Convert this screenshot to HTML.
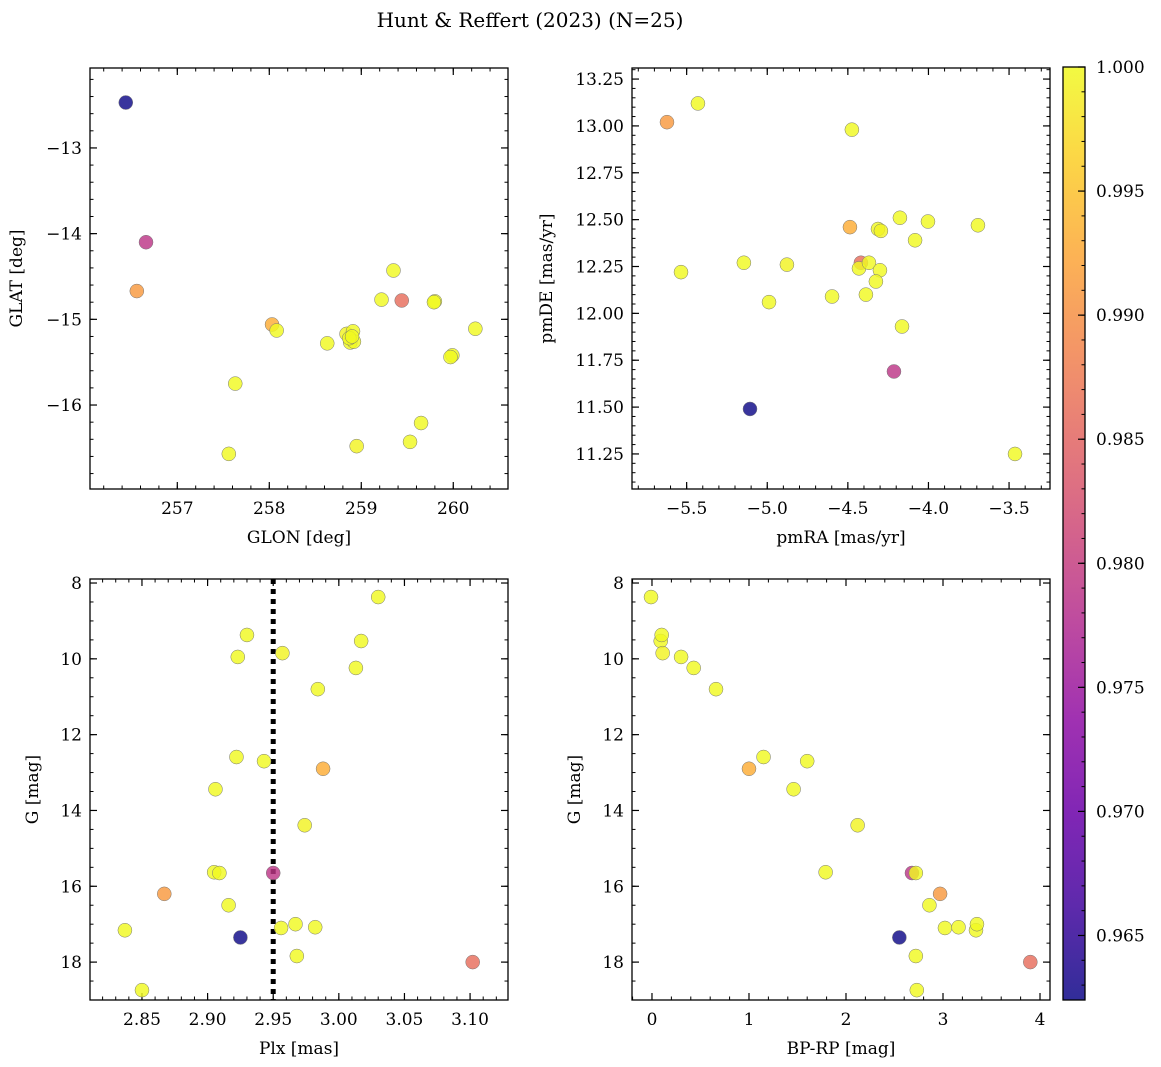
<!DOCTYPE html>
<html><head><meta charset="utf-8"><style>
html,body{margin:0;padding:0;background:#fff;}
svg{display:block;font-family:"DejaVu Serif","Liberation Serif",serif;}
</style></head><body>
<svg id="fig" width="1161" height="1067" viewBox="0 0 1161 1067" xmlns="http://www.w3.org/2000/svg">
<text x="530" y="27" font-size="20" text-anchor="middle">Hunt &amp; Reffert (2023) (N=25)</text>
<defs><linearGradient id="cbg" x1="0" y1="1" x2="0" y2="0"></linearGradient></defs>
</svg>
<script>
const glon=[256.44,256.66,259.44,256.56,258.03, 257.63,257.56,258.08,258.63,258.84,258.88,258.91,258.92,258.87,258.90,258.95,259.22,259.35,259.80,259.79,259.53,259.65,259.99,259.97,260.24];
const glat=[-12.47,-14.10,-14.78,-14.67,-15.06, -15.75,-16.57,-15.13,-15.28,-15.17,-15.27,-15.14,-15.26,-15.22,-15.20,-16.48,-14.77,-14.43,-14.79,-14.80,-16.43,-16.21,-15.42,-15.44,-15.11];
const pmra=[-5.107,-4.214,-4.419,-5.622,-4.487, -5.430,-4.475,-5.535,-5.145,-4.878,-4.989,-4.598,-4.431,-4.369,-4.313,-4.295,-4.301,-4.326,-4.388,-4.177,-4.003,-4.083,-3.693,-4.164,-3.463];
const pmde=[11.49,11.69,12.27,13.02,12.46, 13.12,12.98,12.22,12.27,12.26,12.06,12.09,12.24,12.27,12.45,12.44,12.23,12.17,12.10,12.51,12.49,12.39,12.47,11.93,11.25];
const plx=[2.925,2.950,3.102,2.867,2.988, 3.030,3.017,2.930,2.923,2.957,3.013,2.984,2.922,2.943,2.906,2.974,2.905,2.909,2.916,2.837,2.967,2.956,2.982,2.968,2.850];
const gmag=[17.35,15.65,18.0,16.2,12.9, 8.37,9.53,9.37,9.95,9.85,10.24,10.80,12.59,12.70,13.44,14.39,15.63,15.65,16.50,17.16,17.00,17.10,17.08,17.84,18.74];
const bprp=[2.55,2.68,3.90,2.97,1.00, -0.01,0.09,0.10,0.30,0.11,0.43,0.66,1.15,1.60,1.46,2.12,1.79,2.72,2.86,3.34,3.35,3.02,3.16,2.72,2.73];
const prob=[0.9624,0.979,0.986,0.991,0.993, 1,1,1,1,0.9995,1,1,1,1,1,0.9995,1,1,1,1,1,1,1,1,1];
const cbTicks=[0.965,0.970,0.975,0.980,0.985,0.990,0.995,1.000];
const plxLine=2.95;
const VMIN=0.9624,VMAX=1.0;
const NS="http://www.w3.org/2000/svg";
const svg=document.getElementById('fig');
function mk(t,a,p){const e=document.createElementNS(NS,t);for(const k in a)e.setAttribute(k,a[k]);(p||svg).appendChild(e);return e;}
const stops=["#0d0887","#41049d","#6a00a8","#8f0da4","#b12a90","#cc4778","#e16462","#f2844b","#fca636","#fcce25","#f0f921"];
function hx(h){return [1,3,5].map(i=>parseInt(h.substr(i,2),16));}
function plasma(t){t=Math.max(0,Math.min(1,t));const f=t*10,i=Math.min(9,Math.floor(f)),r=f-i;const a=hx(stops[i]),b=hx(stops[i+1]);return 'rgb('+a.map((v,k)=>Math.round(v+(b[k]-v)*r)).join(',')+')';}
const fmtMinus=s=>s.replace('-','\u2212');
function panel(name,box,xr,yr,xmaj,xmin,ymaj,ymin,xdec,ydec,xlabel,ylabel,ylabX,xs,ys,invY){
  const [L,T,R,B]=box;
  const g=mk('g',{});  
  const X=v=>L+(v-xr[0])/(xr[1]-xr[0])*(R-L);
  const Y=v=>invY? T+(v-yr[0])/(yr[1]-yr[0])*(B-T) : B-(v-yr[0])/(yr[1]-yr[0])*(B-T);
  const ticks=(lo,hi,st)=>{const o=[];for(let v=Math.ceil(lo/st-1e-9)*st;v<=hi+1e-9;v+=st)o.push(+v.toFixed(6));return o;};
  const xmn=Math.min(...xr),xmx=Math.max(...xr),ymn=Math.min(...yr),ymx=Math.max(...yr);
  ticks(xmn,xmx,xmin).forEach(v=>{const x=X(v);mk('line',{x1:x,x2:x,y1:B,y2:B-3.5,stroke:'#000','stroke-width':1},g);mk('line',{x1:x,x2:x,y1:T,y2:T+3.5,stroke:'#000','stroke-width':1},g);});
  ticks(ymn,ymx,ymin).forEach(v=>{const y=Y(v);mk('line',{x1:L,x2:L+3.5,y1:y,y2:y,stroke:'#000','stroke-width':1},g);mk('line',{x1:R,x2:R-3.5,y1:y,y2:y,stroke:'#000','stroke-width':1},g);});
  ticks(xmn,xmx,xmaj).forEach(v=>{const x=X(v);mk('line',{x1:x,x2:x,y1:B,y2:B-7,stroke:'#000','stroke-width':1.2},g);mk('line',{x1:x,x2:x,y1:T,y2:T+7,stroke:'#000','stroke-width':1.2},g);
    const t=mk('text',{x:x,y:B+25,'font-size':17,'text-anchor':'middle'},g);t.textContent=fmtMinus(v.toFixed(xdec));});
  ticks(ymn,ymx,ymaj).forEach(v=>{const y=Y(v);mk('line',{x1:L,x2:L+7,y1:y,y2:y,stroke:'#000','stroke-width':1.2},g);mk('line',{x1:R,x2:R-7,y1:y,y2:y,stroke:'#000','stroke-width':1.2},g);
    const t=mk('text',{x:L-8,y:y+6,'font-size':17,'text-anchor':'end'},g);t.textContent=fmtMinus(v.toFixed(ydec));});
  const xl=mk('text',{x:(L+R)/2,y:B+54,'font-size':17,'text-anchor':'middle'},g);xl.textContent=xlabel;
  const yl=mk('text',{x:ylabX,y:(T+B)/2,'font-size':17,'text-anchor':'middle',transform:'rotate(-90 '+ylabX+' '+(T+B)/2+')'},g);yl.textContent=ylabel;
  const pts=mk('g',{},g);
  if(name==='plx-g-panel'){const l=mk('line',{x1:X(plxLine),x2:X(plxLine),y1:T,y2:B,stroke:'#000','stroke-width':5,'stroke-dasharray':'5,5'},g);g.appendChild(pts);}
  for(let i=0;i<xs.length;i++){const c=mk('circle',{cx:X(xs[i]),cy:Y(ys[i]),r:7,fill:plasma((prob[i]-VMIN)/(VMAX-VMIN)),'fill-opacity':0.82,stroke:'#777','stroke-width':0.5},pts);
    
    }
  mk('rect',{x:L,y:T,width:R-L,height:B-T,fill:'none',stroke:'#000','stroke-width':1.3},g);
}
panel('glon-glat-panel',[90,68,508,489],[256.051,260.595],[-16.98,-12.067],1,0.2,1,0.2,0,0,'GLON [deg]','GLAT [deg]',22,glon,glat,false);
panel('pm-panel',[632,68,1050,489],[-5.839,-3.246],[11.063,13.309],0.5,0.1,0.25,0.05,1,2,'pmRA [mas/yr]','pmDE [mas/yr]',552,pmra,pmde,false);
panel('plx-g-panel',[90,579,508,1000],[2.8104,3.1289],[7.894,19.0],0.05,0.01,2,0.5,2,0,'Plx [mas]','G [mag]',38,plx,gmag,true);
panel('cmd-panel',[632,579,1050,1000],[-0.206,4.103],[7.894,19.0],1,0.2,2,0.5,0,0,'BP-RP [mag]','G [mag]',580,bprp,gmag,true);
// colorbar
const grad=document.getElementById('cbg');
for(let k=0;k<=20;k++)mk('stop',{offset:k/20,'stop-color':plasma(k/20),'stop-opacity':0.85},grad);
const cb=mk('g',{});
const CT=67,CB=1000,CL=1063,CR=1085;
mk('rect',{x:CL,y:CT,width:CR-CL,height:CB-CT,fill:'url(#cbg)',stroke:'#000','stroke-width':1.3},cb);
const CY=v=>CB-(v-VMIN)/(VMAX-VMIN)*(CB-CT);
for(let v=0.963;v<=1.00001;v+=0.001){const y=CY(v);mk('line',{x1:CR,x2:CR-3.5,y1:y,y2:y,stroke:'#000','stroke-width':1},cb);}
cbTicks.forEach(v=>{const y=CY(v);mk('line',{x1:CR,x2:CR-7,y1:y,y2:y,stroke:'#000','stroke-width':1.2},cb);
  const t=mk('text',{x:1096,y:y+6,'font-size':17},cb);t.textContent=v.toFixed(3);});
</script>
</body></html>
